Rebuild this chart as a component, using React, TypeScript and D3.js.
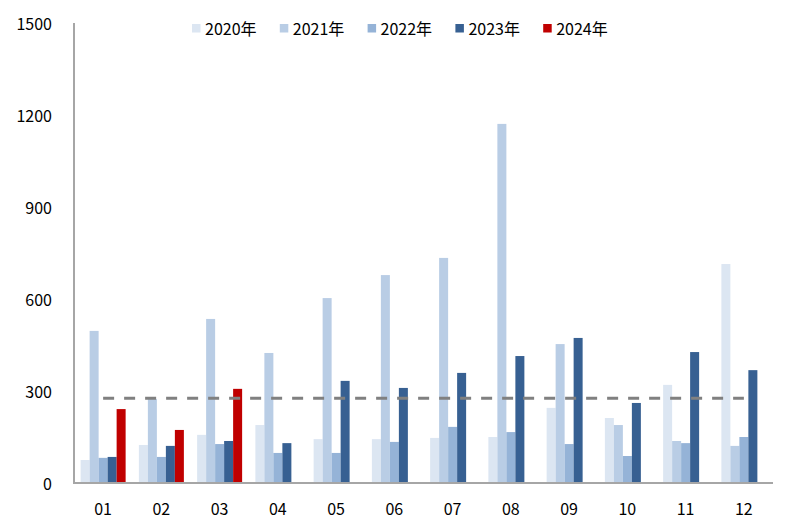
import React from "react";
import * as d3 from "d3";

const months = ["01", "02", "03", "04", "05", "06", "07", "08", "09", "10", "11", "12"];
const seriesNames = ["2020年", "2021年", "2022年", "2023年", "2024年"];
const colors = ["#DCE6F2", "#B9CDE5", "#95B3D7", "#376092", "#C00000"];
const s2020 = [75, 124, 157, 189, 143, 143, 147, 150, 245, 212, 320, 714];
const s2021 = [496, 274, 535, 424, 603, 678, 734, 1171, 453, 189, 137, 121];
const s2022 = [82, 85, 127, 98, 98, 134, 183, 166, 127, 88, 130, 150];
const s2023 = [85, 121, 137, 130, 333, 310, 359, 414, 473, 261, 427, 368];
const s2024 = [241, 173, 307];
const series = [s2020, s2021, s2022, s2023, s2024];
const avgLine = 276;
const yTicks = [0, 300, 600, 900, 1200, 1500];

const W = 797;
const H = 531;
const left = 74;
const right = 773;
const top = 23;
const bottom = 483;
const font = "'Noto Sans CJK SC', 'Noto Sans', sans-serif";

export default function App() {
  const x = d3.scaleBand<string>().domain(months).range([left, right]).paddingInner(0.2275).paddingOuter(0.11375);
  const y = d3.scaleLinear().domain([0, 1500]).range([bottom, top]);
  const xs = d3.scaleBand<number>().domain(d3.range(5)).range([0, x.bandwidth()]);
  const step = x.step();
  const firstC = left + step / 2;
  const lastC = left + step * 11.5;
  return (
    <svg width={W} height={H} style={{ position: "absolute", left: 0, top: 0, fontFamily: font }}>
      <rect width={W} height={H} fill="#fff" />
      {series.map((vals, si) =>
        vals.map((v, i) => (
          <rect
            key={`${si}-${i}`}
            x={(x(months[i]) as number) + (xs(si) as number)}
            y={y(v)}
            width={xs.bandwidth()}
            height={bottom - y(v)}
            fill={colors[si]}
          />
        ))
      )}
      <line
        x1={firstC}
        x2={lastC}
        y1={y(avgLine)}
        y2={y(avgLine)}
        stroke="#808080"
        strokeWidth={3}
        strokeDasharray="11 10"
      />
      <line x1={left} x2={left} y1={top} y2={bottom} stroke="#A6A6A6" strokeWidth={2} />
      <line x1={left - 1} x2={right} y1={bottom} y2={bottom} stroke="#A6A6A6" strokeWidth={2} />
      {yTicks.map((t) => (
        <text key={t} x={52} y={y(t)} textAnchor="end" dominantBaseline="central" fontSize={16} fill="#000">
          {t}
        </text>
      ))}
      {months.map((m) => (
        <text
          key={m}
          x={(x(m) as number) + x.bandwidth() / 2}
          y={508}
          textAnchor="middle"
          dominantBaseline="central"
          fontSize={16}
          fill="#000"
        >
          {m}
        </text>
      ))}
      {seriesNames.map((n, i) => (
        <g key={n} transform={`translate(${192 + i * 87.8},28)`}>
          <rect x={0} y={-4} width={8.5} height={8.5} fill={colors[i]} />
          <text x={13} y={0} dominantBaseline="central" fontSize={16} fill="#000">
            {n}
          </text>
        </g>
      ))}
    </svg>
  );
}
